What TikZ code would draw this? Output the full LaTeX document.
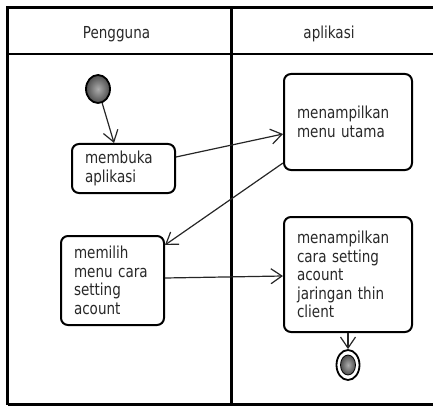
\documentclass[tikz,border=0pt]{standalone}
\usepackage{fontspec}
\setmainfont{DejaVu Sans}[FakeStretch=0.82]
\usetikzlibrary{arrows.meta,shapes.geometric,calc}
\definecolor{ink}{RGB}{40,40,40}
\begin{document}
\begin{tikzpicture}[x=1pt,y=-1pt,
  lane/.style={line width=2.2pt, draw=black},
  lanelabel/.style={text=ink, font=\fontsize{16.5}{18.5}\selectfont, anchor=base, inner sep=0pt},
  action/.style={draw=black, line width=2pt, rounded corners=7pt, fill=white,
    text=ink, font=\fontsize{16.5}{18.5}\selectfont, align=left,
    inner xsep=13pt, inner ysep=0pt},
  flow/.style={line width=1.2pt, draw=black!85,
    -{Straight Barb[length=11pt,width=15pt,line width=1.2pt]}},
  initial/.style={ellipse, draw=black, line width=1.8pt, inner sep=0pt,
    minimum width=24pt, minimum height=28pt, inner color=gray!65, outer color=black!70},
  finalring/.style={ellipse, draw=black, line width=1.8pt, fill=white, inner sep=0pt,
    minimum width=23pt, minimum height=30pt},
  finalcore/.style={ellipse, draw=black, line width=0.8pt, inner sep=0pt,
    minimum width=15pt, minimum height=20pt, inner color=gray!65, outer color=black!70}]

\useasboundingbox (0,0) rectangle (433,406);
\clip (0,0) rectangle (433,406);

% swimlane frame
\path[lane] (7.5,404.5) -- (7.5,7.5) -- (445,7.5);
\path[lane] (7.5,54) -- (445,54);
\path[lane] (7.5,404.5) -- (445,404.5);
\path[lane] (231.5,7.5) -- (231.5,404.5);

\node[lanelabel] (laneA) at (116.5,39) {Pengguna};
\node[lanelabel] (laneB) at (329,39) {aplikasi};

% actions
\node[action, text width=77pt, minimum height=49pt] (membuka) at (123.5,168.5)
  {membuka\\aplikasi};
\node[action, text width=102pt, minimum height=96pt] (utama) at (348,122)
  {menampilkan\\menu utama};
\node[action, text width=77pt, minimum height=89pt] (memilih) at (112.5,280.5)
  {memilih\\menu cara\\setting\\acount};
\node[action, text width=102pt, minimum height=115pt] (setting) at (348,274.5)
  {menampilkan\\cara setting\\acount\\jaringan thin\\client};

% initial and final states
\node[initial] (start) at (98,89) {};
\node[finalring] (end) at (348,365) {};
\node[finalcore] (endcore) at (end.center) {};

% control flow
\draw[flow] (start) -- ($(membuka.north west)!0.41!(membuka.north east)$);
\draw[flow] ([yshift=11.5pt]membuka.east) -- ([yshift=-12pt]utama.west);
\draw[flow] ([yshift=-41pt]utama.west) -- ([yshift=35.5pt]memilih.east);
\draw[flow] ([yshift=2.5pt]memilih.east) -- ([yshift=-1.5pt]setting.west);
\draw[flow] (setting.south) -- (end.north);
\end{tikzpicture}
\end{document}
